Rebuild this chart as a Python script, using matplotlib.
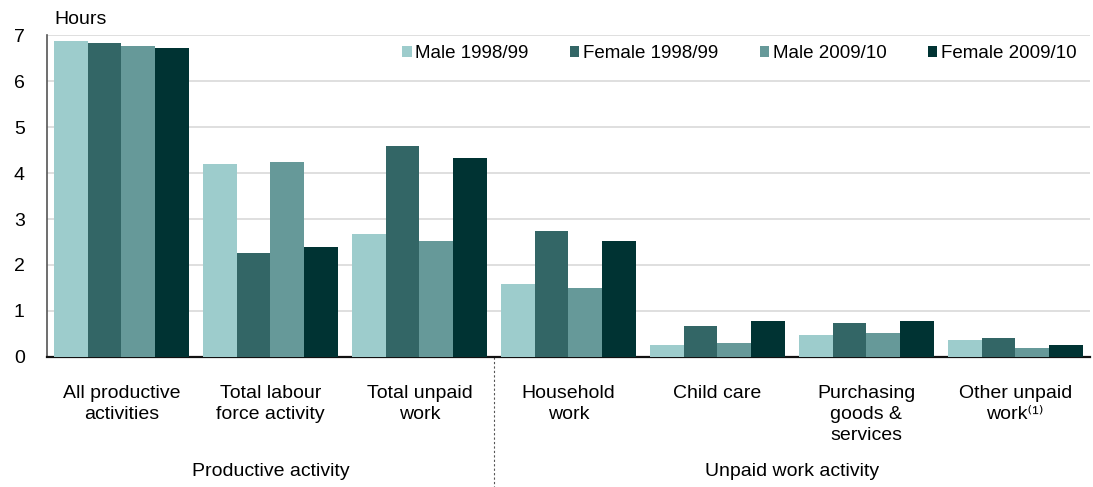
import matplotlib
matplotlib.use("Agg")
import matplotlib.pyplot as plt
import numpy as np

plt.rcParams['font.family'] = ['Liberation Sans', 'DejaVu Sans']

categories = ["All productive\nactivities", "Total labour\nforce activity", "Total unpaid\nwork",
              "Household\nwork", "Child care", "Purchasing\ngoods &\nservices",
              "Other unpaid\nwork\u207d\u00b9\u207e"]
series = ["Male 1998/99", "Female 1998/99", "Male 2009/10", "Female 2009/10"]
male_1998 = [6.87, 4.20, 2.67, 1.59, 0.26, 0.48, 0.37]
female_1998 = [6.83, 2.26, 4.59, 2.74, 0.67, 0.74, 0.41]
male_2009 = [6.76, 4.24, 2.52, 1.50, 0.30, 0.52, 0.20]
female_2009 = [6.72, 2.39, 4.33, 2.52, 0.78, 0.78, 0.26]
groups = ["Productive activity", "Unpaid work activity"]
colors = ["#9dcccc", "#336666", "#669999", "#003333"]

fig = plt.figure(figsize=(10.93, 4.87), dpi=100)
ax = fig.add_axes([0.043, 0.267, 0.954, 0.661])
x = np.arange(len(categories))
w = 0.226
data = [male_1998, female_1998, male_2009, female_2009]
for i, (vals, lab, c) in enumerate(zip(data, series, colors)):
    ax.bar(x + (i - 1.5) * w, vals, w, color=c, label=lab, zorder=3)

fs = 14
ax.set_xlim(-0.5, len(categories) - 0.5)
ax.set_ylim(0, 7)
ax.set_yticks(range(0, 8))
ax.yaxis.grid(True, color="#d9d9d9", lw=1.2, zorder=0)
ax.set_axisbelow(True)
ax.tick_params(axis='y', length=0, labelsize=fs, pad=20)
ax.set_xticks(x)
ax.set_xticklabels(categories, fontsize=fs, va='top', linespacing=1.32)
ax.tick_params(axis='x', length=0, pad=20)
for s in ['top', 'right']:
    ax.spines[s].set_visible(False)
ax.spines['left'].set_color('#555555')
ax.spines['left'].set_linewidth(1.2)
ax.spines['bottom'].set_color('#111111')
ax.spines['bottom'].set_linewidth(1.6)
for lbl in ax.get_yticklabels():
    lbl.set_horizontalalignment('center')

fig.text(0.050, 0.960, "Hours", fontsize=fs, ha='left', va='center')

leg = ax.legend(loc='upper right', bbox_to_anchor=(1.0, 1.01), ncol=4, frameon=False,
                fontsize=13.5, handlelength=0.5, handleheight=0.5, handletextpad=0.2,
                columnspacing=2.2, borderaxespad=0.3)

# separator dashed line between groups
ax.plot([2.5, 2.5], [0, -0.405], transform=ax.get_xaxis_transform(), clip_on=False,
        color='#555555', lw=0.8, ls=(0, (2, 2)))
ax.text(1.0, -0.355, groups[0], transform=ax.get_xaxis_transform(), ha='center', va='center', fontsize=fs)
ax.text(4.5, -0.355, groups[1], transform=ax.get_xaxis_transform(), ha='center', va='center', fontsize=fs)

fig.savefig("out.png", dpi=100)
